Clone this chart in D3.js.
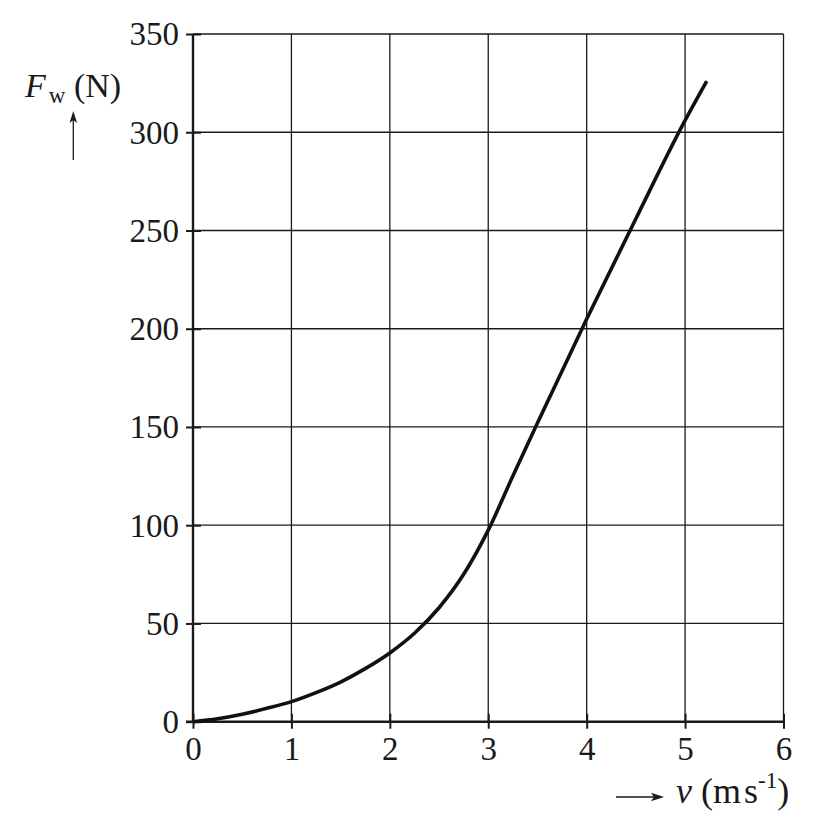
<!DOCTYPE html>
<html>
<head>
<meta charset="utf-8">
<script src="https://cdn.jsdelivr.net/npm/d3@7"></script>
<style>
  html, body { margin: 0; padding: 0; background: #fff; }
  svg { display: block; }
  text { font-family: "Liberation Serif", "Times New Roman", serif; fill: #1a1a1a; }
</style>
</head>
<body>
<svg id="chart" width="817" height="835"></svg>
<script>
// Data
const speeds = [0, 0.25, 0.5, 0.75, 1, 1.25, 1.5, 1.75, 2, 2.25, 2.5, 2.75, 3.0, 3.25, 3.5, 4.0, 4.5, 5.0, 5.22];
const forces = [0, 1.5, 3.8, 6.8, 10.2, 14.8, 20.2, 27, 35, 45, 58, 75, 97.5, 125, 152, 205, 256, 306, 326];
const xTicks = [0, 1, 2, 3, 4, 5, 6];
const yTicks = [0, 50, 100, 150, 200, 250, 300, 350];

const svg = d3.select("#chart");
const ink = "#1a1a1a";

const x = d3.scaleLinear().domain([0, 6]).range([193, 783.5]);
const y = d3.scaleLinear().domain([0, 350]).range([721.7, 34]);

// grid
const grid = svg.append("g");
grid.selectAll("line.v").data(xTicks.filter(d => d > 0)).join("line")
  .attr("x1", d => x(d)).attr("x2", d => x(d))
  .attr("y1", y(0)).attr("y2", y(350))
  .attr("stroke", ink).attr("stroke-width", 1.3);
grid.selectAll("line.h").data(yTicks.filter(d => d > 0)).join("line")
  .attr("x1", x(0)).attr("x2", x(6))
  .attr("y1", d => y(d)).attr("y2", d => y(d))
  .attr("stroke", ink).attr("stroke-width", 1.3);

// axes
const yAxis = d3.axisLeft(y).tickValues(yTicks).tickFormat(d3.format("d")).tickSize(0).tickPadding(14);
const xAxis = d3.axisBottom(x).tickValues(xTicks).tickFormat(d3.format("d")).tickSize(0).tickPadding(17);

const gy = svg.append("g").attr("transform", `translate(${x(0)},0)`).call(yAxis);
gy.select(".domain").remove();
gy.selectAll(".tick text").attr("font-size", 33).attr("fill", ink)
  .attr("font-family", "Liberation Serif").attr("dy", "0.33em");
gy.selectAll(".tick").append("line")
  .attr("x1", -7).attr("x2", 8).attr("stroke", ink).attr("stroke-width", 2);

const gx = svg.append("g").attr("transform", `translate(0,${y(0)})`).call(xAxis);
gx.select(".domain").remove();
gx.selectAll(".tick text").attr("font-size", 33).attr("fill", ink)
  .attr("font-family", "Liberation Serif").attr("dy", "0.66em");
gx.selectAll(".tick").append("line")
  .attr("y1", -8).attr("y2", 7).attr("stroke", ink).attr("stroke-width", 2);

// axis lines
svg.append("line").attr("x1", x(0)).attr("x2", x(0)).attr("y1", y(0)).attr("y2", y(350))
  .attr("stroke", ink).attr("stroke-width", 2.4);
svg.append("line").attr("x1", x(0) - 7).attr("x2", x(6)).attr("y1", y(0)).attr("y2", y(0))
  .attr("stroke", ink).attr("stroke-width", 2.4);

// curve
const pts = speeds.map((v, i) => [v, forces[i]]);
const line = d3.line().x(d => x(d[0])).y(d => y(d[1])).curve(d3.curveMonotoneX);
svg.append("path").datum(pts).attr("d", line)
  .attr("fill", "none").attr("stroke", "#111").attr("stroke-width", 3.6)
  .attr("stroke-linecap", "butt").attr("stroke-linejoin", "round");

// y label
const yl = svg.append("text").attr("x", 25).attr("y", 97).attr("font-size", 34);
yl.append("tspan").attr("font-style", "italic").text("F");
yl.append("tspan").attr("font-size", 23).attr("dy", 6).attr("dx", 3).text("w");
yl.append("tspan").attr("dy", -6).text(" (N)");

// y arrow
svg.append("line").attr("x1", 73.3).attr("x2", 73.3).attr("y1", 160).attr("y2", 118)
  .attr("stroke", ink).attr("stroke-width", 1.3);
svg.append("path").attr("d", `M73.3,111 L69.5,123 L73.3,120 L77.1,123 Z`).attr("fill", ink);

// x label
svg.append("line").attr("x1", 616).attr("x2", 657).attr("y1", 797).attr("y2", 797)
  .attr("stroke", ink).attr("stroke-width", 1.3);
svg.append("path").attr("d", `M664,797 L651,792.8 L654,797 L651,801.2 Z`).attr("fill", ink);
const xl = svg.append("text").attr("x", 676).attr("y", 803).attr("font-size", 36);
xl.append("tspan").attr("font-style", "italic").text("v");
xl.append("tspan").text(" (m");
xl.append("tspan").attr("dx", 3).text("s");
xl.append("tspan").attr("font-size", 23).attr("dy", -15).text("-1");
xl.append("tspan").attr("dy", 15).text(")");
</script>
</body>
</html>
